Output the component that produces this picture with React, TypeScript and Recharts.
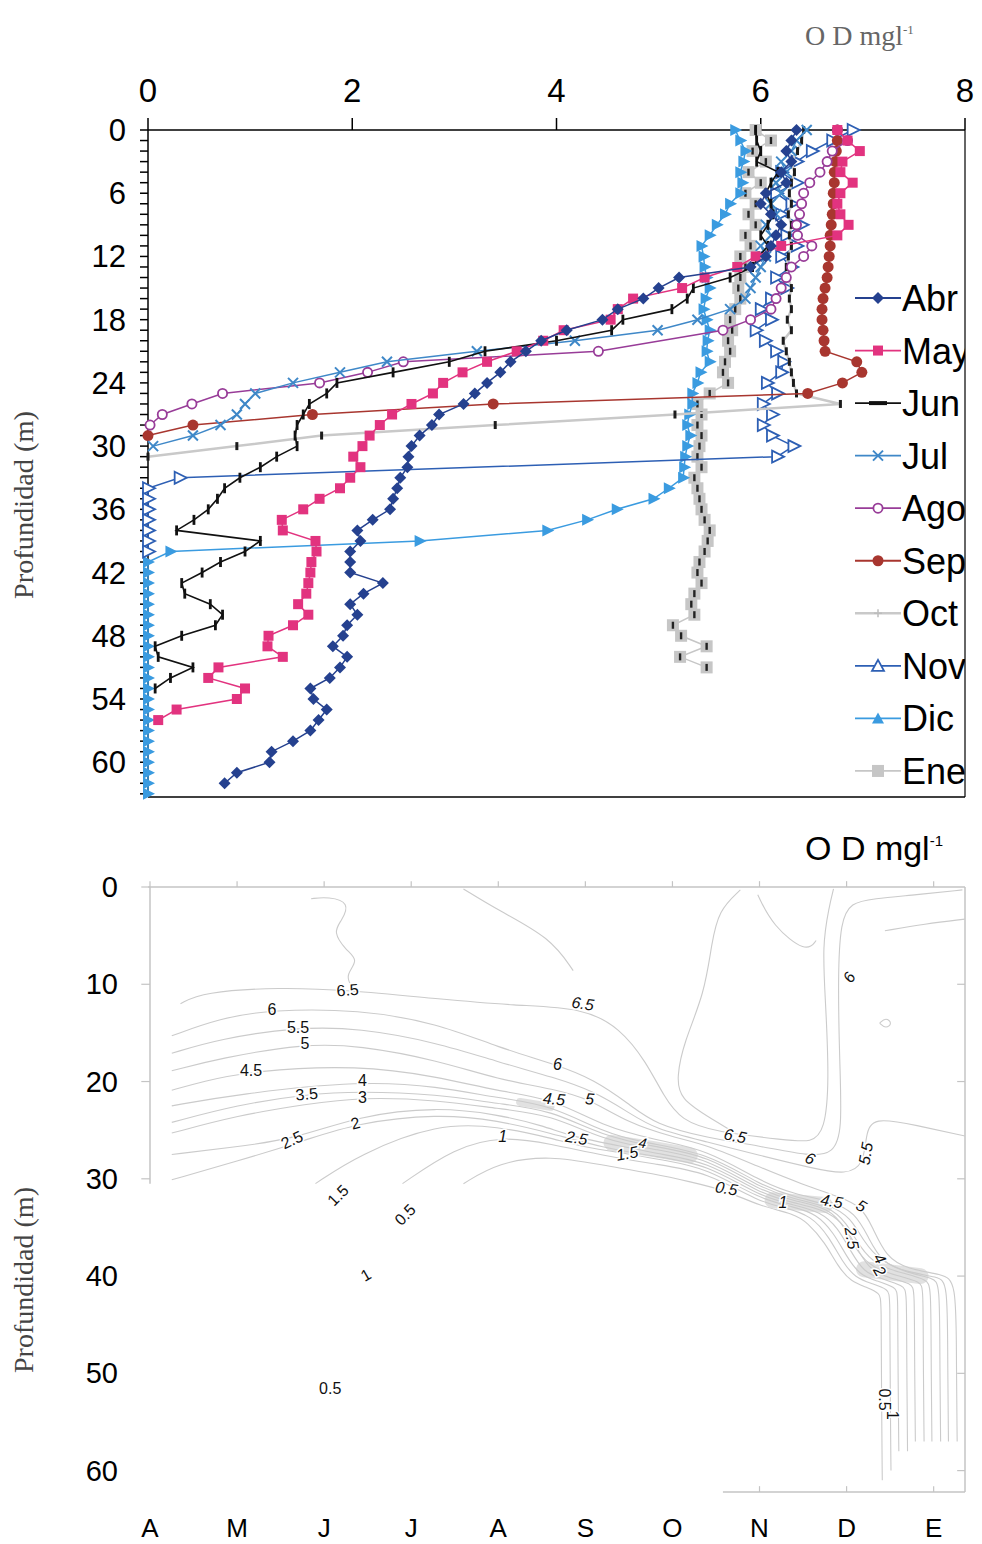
import React from "react";
import { ScatterChart, Scatter, XAxis, YAxis, ReferenceLine } from "recharts";

const SANS = 'Arial, "Liberation Sans", Helvetica, sans-serif';
const SERIF = '"Liberation Serif", "Times New Roman", serif';

// ---- dissolved oxygen profiles: [depth (m), OD (mg/l)] ----
const abr = [[0,6.35],[1,6.3],[2,6.25],[3,6.3],[4,6.2],[5,6.25],[6,6.05],[7,6.0],[8,6.1],[9,6.2],[10,6.15],[11,6.1],[12,6.05],[13,5.9],[14,5.2],[15,5.0],[16,4.85],[17,4.6],[18,4.45],[19,4.1],[20,3.85],[21,3.7],[22,3.55],[23,3.45],[24,3.32],[25,3.2],[26,3.09],[27,2.85],[28,2.78],[29,2.66],[30,2.58],[31,2.55],[32,2.54],[33,2.47],[34,2.44],[35,2.4],[36,2.37],[37,2.2],[38,2.05],[39,2.08],[40,1.98],[41,1.98],[42,1.98],[43,2.3],[44,2.11],[45,1.98],[46,2.05],[47,1.95],[48,1.91],[49,1.81],[50,1.95],[51,1.88],[52,1.78],[53,1.59],[54,1.62],[55,1.75],[56,1.67],[57,1.59],[58,1.42],[59,1.21],[60,1.19],[61,0.87],[62,0.75]];
const may = [[0,6.75],[1,6.85],[2,6.97],[3,6.8],[4,6.78],[5,6.9],[6,6.78],[7,6.75],[8,6.78],[9,6.86],[10,6.75],[11,6.2],[12,5.95],[13,5.77],[14,5.45],[15,5.23],[16,4.75],[17,4.6],[18,4.53],[19,4.07],[20,3.87],[21,3.61],[22,3.32],[23,3.08],[24,2.89],[25,2.79],[26,2.58],[27,2.39],[28,2.27],[29,2.17],[30,2.1],[31,2.01],[32,2.08],[33,1.98],[34,1.88],[35,1.68],[36,1.52],[37,1.31],[38,1.32],[39,1.64],[40,1.65],[41,1.6],[42,1.59],[43,1.57],[44,1.55],[45,1.47],[46,1.57],[47,1.42],[48,1.18],[49,1.17],[50,1.32],[51,0.69],[52,0.59],[53,0.95],[54,0.87],[55,0.28],[56,0.1]];
const jun = [[0,5.95],[1,5.96],[2,6.0],[3,5.96],[4,6.17],[5,6.1],[6,6.05],[7,6.1],[8,6.12],[9,6.07],[10,6.0],[11,6.07],[12,5.98],[13,5.92],[14,5.7],[15,5.34],[16,5.28],[17,5.13],[18,4.65],[19,4.54],[20,4.0],[21,3.3],[22,2.95],[23,2.4],[24,1.85],[25,1.75],[26,1.58],[27,1.52],[28,1.46],[29,1.44],[30,1.46],[31,1.26],[32,1.1],[33,0.9],[34,0.75],[35,0.68],[36,0.59],[37,0.45],[38,0.28],[39,1.1],[40,0.95],[41,0.71],[42,0.53],[43,0.33],[44,0.36],[45,0.61],[46,0.73],[47,0.66],[48,0.33],[49,0.07],[50,0.1],[51,0.44],[52,0.22],[53,0.07]];
const jul = [[0,6.45],[1,6.35],[2,6.3],[3,6.2],[4,6.25],[5,6.15],[6,6.2],[7,6.1],[8,6.15],[9,6.05],[10,6.1],[11,6.0],[12,6.05],[13,6.0],[14,5.95],[15,5.9],[16,5.85],[17,5.7],[18,5.38],[19,4.99],[20,4.18],[21,3.22],[22,2.34],[23,1.88],[24,1.42],[25,1.05],[26,0.95],[27,0.87],[28,0.71],[29,0.44],[30,0.05]];
const ago = [[0,6.75],[1,6.85],[2,6.7],[3,6.65],[4,6.58],[5,6.48],[6,6.42],[7,6.4],[8,6.38],[9,6.35],[10,6.36],[11,6.5],[12,6.42],[13,6.3],[14,6.25],[15,6.2],[16,6.15],[17,6.1],[18,5.9],[19,5.63],[21,4.41],[22,2.5],[23,2.15],[24,1.68],[25,0.73],[26,0.43],[27,0.14],[28,0.02]];
const sep = [[0,6.75],[1,6.75],[2,6.74],[3,6.73],[4,6.72],[5,6.72],[6,6.71],[7,6.71],[8,6.7],[9,6.69],[10,6.68],[11,6.68],[12,6.67],[13,6.66],[14,6.65],[15,6.63],[16,6.61],[17,6.6],[18,6.6],[19,6.61],[20,6.62],[21,6.63],[22,6.94],[23,6.99],[24,6.8],[25,6.46],[26,3.38],[27,1.61],[28,0.44],[29,0]];
const oct = [[0,6.42],[1,6.4],[2,6.36],[3,6.3],[4,6.33],[5,6.3],[6,6.28],[7,6.3],[8,6.27],[9,6.3],[10,6.28],[11,6.3],[12,6.27],[13,6.25],[14,6.27],[15,6.3],[16,6.28],[17,6.3],[18,6.26],[19,6.3],[20,6.22],[21,6.25],[22,6.28],[23,6.3],[24,6.32],[25,6.35],[26,6.78],[27,5.16],[28,3.4],[29,1.7],[30,0.87],[31,0]];
const nov = [[0,6.9],[1,6.7],[2,6.5],[3,6.35],[4,6.2],[5,6.35],[6,6.15],[7,6.3],[8,6.2],[9,6.4],[10,6.25],[11,6.35],[12,6.2],[13,6.3],[14,6.15],[15,6.25],[16,6.1],[17,6.0],[18,6.1],[19,5.95],[20,6.04],[21,6.15],[22,6.22],[23,6.2],[24,6.06],[25,6.16],[26,6.02],[27,6.11],[28,6.02],[29,6.11],[30,6.32],[31,6.16],[33,0.31],[34,0],[35,0],[36,0],[37,0],[38,0],[39,0],[40,0]];
const dic = [[0,5.75],[1,5.8],[2,5.85],[3,5.83],[4,5.8],[5,5.82],[6,5.8],[7,5.7],[8,5.65],[9,5.57],[10,5.5],[11,5.42],[12,5.44],[13,5.45],[14,5.47],[15,5.5],[16,5.46],[17,5.44],[18,5.47],[19,5.5],[20,5.48],[21,5.47],[22,5.5],[23,5.41],[24,5.38],[25,5.33],[26,5.33],[27,5.3],[28,5.28],[29,5.31],[30,5.28],[31,5.26],[32,5.25],[33,5.24],[34,5.1],[35,4.95],[36,4.59],[37,4.3],[38,3.91],[39,2.66],[40,0.22],[41,0],[42,0],[43,0],[44,0],[45,0],[46,0],[47,0],[48,0],[49,0],[50,0],[51,0],[52,0],[53,0],[54,0],[55,0],[56,0],[57,0],[58,0],[59,0],[60,0],[61,0],[62,0],[63,0]];
const ene = [[0,5.95],[1,6.1],[2,5.92],[3,6.05],[4,5.88],[5,6.0],[6,5.85],[7,5.95],[8,5.88],[9,5.95],[10,5.85],[11,5.9],[12,5.8],[13,5.85],[14,5.8],[15,5.78],[16,5.8],[17,5.75],[18,5.7],[19,5.72],[20,5.68],[21,5.7],[22,5.65],[23,5.63],[24,5.68],[25,5.5],[26,5.38],[27,5.42],[28,5.38],[29,5.42],[30,5.4],[31,5.38],[32,5.42],[33,5.35],[34,5.38],[35,5.4],[36,5.42],[37,5.45],[38,5.5],[39,5.48],[40,5.45],[41,5.4],[42,5.38],[43,5.42],[44,5.35],[45,5.32],[46,5.35],[47,5.14],[48,5.22],[49,5.47],[50,5.21],[51,5.47]];

const odTicks = [0, 2, 4, 6, 8];
const depthMax = 63.3;
const depthTicks = Array.from({ length: 64 }, (_, i) => i);
const depthLabelStep = 6;

// ---- section (month x depth) contour lines: [month index, depth (m)] ----
const monthLetters = ["A", "M", "J", "J", "A", "S", "O", "N", "D", "E"];
const monthTicks = [0, 1, 2, 3, 4, 5, 6, 7, 8, 9];
const sectionDepthTicks = [0, 10, 20, 30, 40, 50, 60];
const sectionMonthMax = 9.36;
const sectionDepthMax = 62.2;

const c65 = [[0.35,12],[0.6,10.8],[1.5,10.3],[2.27,10.6],[3.3,11.5],[4.2,12.2],[4.97,12.4],[5.4,14.5],[5.7,18],[5.9,21.5],[6.1,24],[6.5,25.2],[7.3,26],[7.6,26.3],[7.75,25],[7.8,20],[7.76,12],[7.72,6],[7.8,2],[7.85,0.2]];
const c65b = [[6.78,0.3],[6.53,2.4],[6.45,5.8],[6.37,10.9],[6.13,16],[6.05,19.5],[6.08,21.8],[6.46,23.9],[6.72,25.3]];
const c6 = [[0.25,15.3],[0.8,13.5],[1.4,12.6],[2.4,12.6],[3.3,14],[4.0,16.5],[4.68,18.3],[5.1,19.8],[5.5,22.3],[5.8,24.4],[6.4,25.8],[7.0,26.6],[7.58,27.7],[7.85,27.4],[7.95,25],[7.92,18],[7.9,9.3],[7.93,3.5],[8.05,1.6],[8.3,1.2],[8.8,0.8],[9.33,0.3]];
const c55 = [[0.25,17.1],[0.8,15.6],[1.7,14.4],[2.4,14.5],[3.3,16],[4.0,18.0],[4.65,19.6],[5.1,21.0],[5.5,23.2],[5.8,24.9],[6.4,26.2],[7.0,27.6],[7.6,28.9],[8.0,29.6],[8.2,28.5],[8.22,25.5],[8.3,23.6],[8.8,24.5],[9.36,25.6]];
const c5 = [[0.25,18.9],[0.8,17.6],[1.78,16.1],[2.4,16.3],[3.3,17.8],[4.0,19.8],[4.65,20.8],[5.05,21.8],[5.5,24.3],[6.0,25.7],[6.4,26.5],[7.0,28.8],[7.5,30.6],[7.9,31.8],[8.17,32.8],[8.3,35],[8.45,38],[8.7,39.3],[9.1,39.8],[9.26,40.5],[9.26,48],[9.27,57]];
const c45 = [[0.25,20.9],[0.6,20],[1.16,18.9],[2.4,18.3],[3.3,19.5],[4.0,21.0],[4.64,21.8],[5.2,24.6],[5.8,26.0],[6.4,27.0],[7.0,30.2],[7.4,31.6],[7.83,32.3],[8.1,33.5],[8.25,36],[8.4,38.6],[8.7,39.6],[9.05,40.1],[9.16,40.6],[9.16,48],[9.17,57]];
const c4 = [[0.25,22.5],[1.0,21.3],[2.44,19.9],[3.3,20.5],[4.0,21.7],[4.6,22.4],[5.2,25.2],[5.66,26.3],[6.4,27.3],[7.0,30.6],[7.4,31.9],[7.8,32.6],[8.05,34],[8.2,36.5],[8.38,38.4],[8.7,39.7],[9.0,40.2],[9.07,40.8],[9.07,48],[9.08,57]];
const c35 = [[0.25,24.2],[1.0,22.4],[1.8,21.3],[2.4,21.0],[3.3,21.3],[4.0,22.3],[4.6,22.9],[5.2,25.6],[5.8,26.7],[6.4,27.6],[7.0,30.9],[7.4,32.1],[7.8,32.8],[8.0,34.5],[8.15,37],[8.35,39],[8.7,39.8],[8.92,40.4],[8.97,41],[8.97,48],[8.98,57]];
const c3 = [[0.25,25.3],[1.0,23.5],[1.8,22.3],[2.44,21.6],[3.3,21.9],[4.0,22.8],[4.6,23.4],[5.2,26.0],[5.8,27.0],[6.4,27.9],[7.0,31.2],[7.4,32.3],[7.8,33.0],[7.98,35],[8.12,37.5],[8.3,39.2],[8.6,40],[8.85,40.6],[8.88,41.2],[8.88,48],[8.89,57]];
const c25 = [[0.25,27.5],[0.9,26.8],[1.63,26],[2.4,23.5],[3.3,22.6],[4.0,23.4],[4.5,24.5],[4.9,25.8],[5.4,26.6],[5.8,27.4],[6.4,28.2],[7.0,31.5],[7.4,32.5],[7.75,33.2],[7.95,34.5],[8.06,36.1],[8.25,39.4],[8.5,40.2],[8.75,40.8],[8.78,41.4],[8.78,48],[8.79,57]];
const c2 = [[0.25,30.1],[1.0,28.2],[1.8,26],[2.36,24.3],[3.3,23.3],[4.0,24],[4.6,25.3],[5.2,26.8],[5.8,27.7],[6.4,28.5],[7.0,31.8],[7.4,32.7],[7.7,33.4],[7.9,35],[8.05,37.5],[8.2,39.6],[8.38,40.2],[8.66,41],[8.69,41.6],[8.69,48],[8.7,58]];
const c15 = [[1.9,30.5],[2.4,27.5],[3.3,24.3],[4.0,24.6],[4.6,25.8],[5.0,26.8],[5.48,27.4],[5.9,28.1],[6.4,28.9],[7.0,32.1],[7.4,32.9],[7.65,33.6],[7.85,35.5],[8.0,38],[8.15,39.9],[8.35,40.5],[8.57,41.2],[8.59,41.8],[8.59,50],[8.6,58]];
const c1 = [[2.9,30.5],[3.5,26.8],[4.05,25.6],[4.6,26.4],[5.2,27.6],[5.8,28.5],[6.4,29.3],[7.0,32.4],[7.27,32.9],[7.6,33.8],[7.8,36],[7.95,38.5],[8.1,40.2],[8.3,40.8],[8.48,41.4],[8.5,42],[8.5,52],[8.51,60]];
const c05 = [[3.6,30.5],[4.0,28.3],[4.6,27.6],[5.2,28.6],[5.8,29.5],[6.2,30.3],[6.62,31.2],[7.0,32.8],[7.4,33.6],[7.55,34.5],[7.75,36.5],[7.9,39],[8.05,40.6],[8.25,41.2],[8.38,41.8],[8.4,42.4],[8.4,52],[8.41,61]];
const t1 = [[1.85,1.2],[2.05,1.0],[2.3,1.6],[2.2,3.5],[2.1,4.6],[2.25,6.5],[2.4,7.5],[2.25,9.0],[2.3,10.0]];
const t2 = [[3.6,0.2],[4.0,2.4],[4.6,5.2],[4.86,8.6]];
const t3 = [[6.98,0.8],[7.15,4.0],[7.54,6.8],[7.65,5.5]];
const t4 = [[8.44,4.5],[8.9,3.8],[9.36,3.3]];
const t5 = [[8.38,14],[8.45,13.4],[8.53,14],[8.45,14.6],[8.38,14]];
const contourLines = [c65, c65b, c6, c55, c5, c45, c4, c35, c3, c25, c2, c15, c1, c05, t1, t2, t3, t4, t5];

// darker bands where the isolines crowd together
const shadeA = [[5.3,26.3],[5.75,26.9],[6.2,27.6]];
const shadeB = [[7.15,32.2],[7.75,32.7]];
const shadeC = [[8.2,39.3],[8.85,40.0]];
const shadeD = [[4.25,22.1],[4.6,22.6]];

// isoline labels: [month index, depth, text, rotation, italic]
const contourLabels: [number, number, string, number, boolean][] = [
  [2.27,10.6,"6.5",-5,false],[1.4,12.6,"6",0,false],[1.7,14.4,"5.5",0,false],[1.78,16.1,"5",0,false],
  [1.16,18.9,"4.5",0,false],[2.44,19.9,"4",0,false],[1.8,21.3,"3.5",-5,false],[2.44,21.6,"3",0,false],
  [2.36,24.3,"2",-15,false],[1.63,26.0,"2.5",-25,false],[2.16,31.7,"1.5",-45,false],[2.93,33.7,"0.5",-45,false],
  [2.48,39.9,"1",-30,false],[2.07,51.6,"0.5",0,false],
  [4.97,12.0,"6.5",8,true],[4.68,18.3,"6",0,true],[4.64,21.8,"4.5",5,true],[5.05,21.8,"5",5,true],
  [4.05,25.6,"1",0,true],[4.9,25.8,"2.5",10,true],[5.48,27.4,"1.5",-10,true],[5.66,26.3,"4",10,true],
  [6.72,25.6,"6.5",12,true],[7.58,27.9,"6",25,true],[6.62,31.0,"0.5",10,true],[7.27,32.4,"1",0,true],
  [7.83,32.3,"4.5",10,true],[8.17,32.8,"5",30,true],[8.22,27.4,"5.5",-80,true],[8.06,36.1,"2.5",80,true],
  [8.38,38.2,"4",60,true],[8.38,39.5,"2",60,true],[8.44,52.7,"0.5",90,false],[8.53,54.3,"1",90,false],
  [8.03,9.3,"6",-60,true],
];

type Kind = "diamond" | "square" | "bar" | "cross" | "ring" | "dot" | "dash" | "triOpen" | "tri" | "graySq";

const series: { name: string; data: number[][]; color: string; kind: Kind; width: number }[] = [
  { name: "Abr", data: abr, color: "#25418f", kind: "diamond", width: 1.5 },
  { name: "May", data: may, color: "#e2337f", kind: "square", width: 1.5 },
  { name: "Jun", data: jun, color: "#111111", kind: "bar", width: 1.6 },
  { name: "Jul", data: jul, color: "#3f88c8", kind: "cross", width: 1.5 },
  { name: "Ago", data: ago, color: "#983c98", kind: "ring", width: 1.5 },
  { name: "Sep", data: sep, color: "#a8362f", kind: "dot", width: 1.5 },
  { name: "Oct", data: oct, color: "#c9c9c9", kind: "dash", width: 2.5 },
  { name: "Nov", data: nov, color: "#2d5fb4", kind: "triOpen", width: 1.5 },
  { name: "Dic", data: dic, color: "#3a9be0", kind: "tri", width: 1.5 },
  { name: "Ene", data: ene, color: "#c6c6c6", kind: "graySq", width: 1.5 },
];

const Marker = ({ kind, color, cx, cy, legend }: { kind: Kind; color: string; cx: number; cy: number; legend?: boolean }) => {
  switch (kind) {
    case "diamond":
      return <polygon points={`${cx},${cy - 6} ${cx + 6},${cy} ${cx},${cy + 6} ${cx - 6},${cy}`} fill={color} />;
    case "square":
      return <rect x={cx - 5} y={cy - 5} width={10} height={10} fill={color} />;
    case "bar":
      return legend ? (
        <rect x={cx - 9} y={cy - 2} width={18} height={4} fill={color} />
      ) : (
        <rect x={cx - 1.4} y={cy - 5} width={2.8} height={10} fill={color} />
      );
    case "cross":
      return <path d={`M${cx - 5},${cy - 5}L${cx + 5},${cy + 5}M${cx - 5},${cy + 5}L${cx + 5},${cy - 5}`} stroke={color} strokeWidth={2} />;
    case "ring":
      return <circle cx={cx} cy={cy} r={4.6} fill="#fff" stroke={color} strokeWidth={1.8} />;
    case "dot":
      return <circle cx={cx} cy={cy} r={5.5} fill={color} />;
    case "dash":
      return legend ? (
        <path d={`M${cx - 4},${cy}L${cx + 4},${cy}M${cx},${cy - 4}L${cx},${cy + 4}`} stroke="#bdbdbd" strokeWidth={1.5} />
      ) : (
        <rect x={cx - 1.5} y={cy - 4} width={3} height={8} fill="#1c1c1c" />
      );
    case "triOpen":
    case "tri": {
      const pts = legend
        ? `${cx},${cy - 6} ${cx + 6},${cy + 5} ${cx - 6},${cy + 5}`
        : `${cx - 5},${cy - 6} ${cx + 7},${cy} ${cx - 5},${cy + 6}`;
      return kind === "tri" ? (
        <polygon points={pts} fill={color} />
      ) : (
        <polygon points={pts} fill="#fff" stroke={color} strokeWidth={1.8} />
      );
    }
    case "graySq":
      return (
        <g>
          <rect x={cx - 6} y={cy - 6} width={12} height={12} fill={color} />
          {!legend && <rect x={cx - 1.2} y={cy - 3.5} width={2.4} height={7} fill="#222" />}
        </g>
      );
    default:
      return <g />;
  }
};

const toProfile = (rows: number[][]) => rows.map(([depth, od]) => ({ depth, od }));
const toSection = (rows: number[][]) => rows.map(([m, d]) => ({ m, d }));

const OdTick = (p: any) => (
  <text x={p.x} y={p.y} dy={-10} textAnchor="middle" fontSize={33} fontFamily={SANS} fill="#000">
    {p.payload.value}
  </text>
);

const DepthTick = (p: any) =>
  p.payload.value % depthLabelStep === 0 ? (
    <text x={p.x} y={p.y} dy={11} textAnchor="end" fontSize={31} fontFamily={SANS} fill="#000">
      {p.payload.value}
    </text>
  ) : (
    <g />
  );

const MonthTick = (p: any) => (
  <text x={p.x} y={p.y} dy={45} textAnchor="middle" fontSize={26} fontFamily={SANS} fill="#000">
    {monthLetters[p.payload.value]}
  </text>
);

const SectionDepthTick = (p: any) => (
  <text x={p.x} y={p.y} dy={10} textAnchor="end" fontSize={29} fontFamily={SANS} fill="#000">
    {p.payload.value}
  </text>
);

const ContourLabel = (p: any) => {
  const { cx, cy, payload } = p;
  return (
    <text
      x={cx}
      y={cy}
      transform={`rotate(${payload.r} ${cx} ${cy})`}
      textAnchor="middle"
      dominantBaseline="central"
      fontSize={payload.t === "4" && payload.m > 5.5 && payload.m < 6 ? 14 : 16}
      fontStyle={payload.it ? "italic" : "normal"}
      fontFamily={SANS}
      fill="#111"
      stroke="#fff"
      strokeWidth={3}
      paintOrder="stroke"
    >
      {payload.t}
    </text>
  );
};

const frame = "#c4c4c4";
const noShape = () => <g />;

export default function App() {
  const labelData = contourLabels.map(([m, d, t, r, it]) => ({ m, d, t, r, it }));
  return (
    <div style={{ position: "absolute", left: 0, top: 0, width: 982, height: 1544, background: "#fff", overflow: "hidden" }}>
      {/* vertical profiles */}
      <div style={{ position: "absolute", left: 0, top: 0 }}>
        <ScatterChart width={982} height={810} margin={{ top: 90, right: 17, bottom: 13, left: 88 }}>
          <XAxis
            type="number"
            dataKey="od"
            orientation="top"
            domain={[0, 8]}
            ticks={odTicks}
            height={40}
            tickSize={12}
            tickMargin={6}
            axisLine={{ stroke: "#000", strokeWidth: 1.5 }}
            tickLine={{ stroke: "#000", strokeWidth: 1.5 }}
            tick={OdTick}
          />
          <YAxis
            type="number"
            dataKey="depth"
            reversed
            domain={[0, depthMax]}
            ticks={depthTicks}
            interval={0}
            width={60}
            tickSize={8}
            tickMargin={14}
            axisLine={{ stroke: "#000", strokeWidth: 1.5 }}
            tickLine={{ stroke: "#000", strokeWidth: 1.5 }}
            tick={DepthTick}
          />
          <ReferenceLine segment={[{ x: 8, y: 0 }, { x: 8, y: depthMax }]} stroke="#333" strokeWidth={1.5} />
          <ReferenceLine segment={[{ x: 0, y: depthMax }, { x: 8, y: depthMax }]} stroke="#000" strokeWidth={1.5} />
          {[...series].reverse().map((s) => (
            <Scatter
              key={s.name}
              name={s.name}
              data={toProfile(s.data)}
              line={{ stroke: s.color, strokeWidth: s.width }}
              lineJointType="linear"
              shape={(p: any) => <Marker kind={s.kind} color={s.color} cx={p.cx} cy={p.cy} />}
              isAnimationActive={false}
            />
          ))}
        </ScatterChart>
      </div>

      {/* month x depth section */}
      <div style={{ position: "absolute", left: 0, top: 840 }}>
        <ScatterChart width={982} height={704} margin={{ top: 47, right: 17, bottom: 8, left: 90 }}>
          <XAxis
            type="number"
            dataKey="m"
            domain={[0, sectionMonthMax]}
            ticks={monthTicks}
            interval={0}
            height={44}
            tickSize={0}
            tickMargin={0}
            axisLine={false}
            tickLine={false}
            tick={MonthTick}
          />
          <YAxis
            type="number"
            dataKey="d"
            reversed
            domain={[0, sectionDepthMax]}
            ticks={sectionDepthTicks}
            interval={0}
            width={60}
            tickSize={0}
            tickMargin={32}
            axisLine={false}
            tickLine={false}
            tick={SectionDepthTick}
          />
          <ReferenceLine segment={[{ x: -0.02, y: 0 }, { x: sectionMonthMax, y: 0 }]} stroke={frame} strokeWidth={1.5} ifOverflow="visible" />
          <ReferenceLine segment={[{ x: 0, y: 0 }, { x: 0, y: 30.5 }]} stroke={frame} strokeWidth={1.5} />
          <ReferenceLine segment={[{ x: sectionMonthMax, y: 0 }, { x: sectionMonthMax, y: sectionDepthMax }]} stroke={frame} strokeWidth={1.5} />
          <ReferenceLine segment={[{ x: 6.58, y: sectionDepthMax }, { x: sectionMonthMax, y: sectionDepthMax }]} stroke={frame} strokeWidth={1.5} />
          {monthTicks.map((m) => (
            <ReferenceLine key={`tt${m}`} segment={[{ x: m, y: 0 }, { x: m, y: -0.6 }]} stroke={frame} strokeWidth={1.2} ifOverflow="visible" />
          ))}
          {[0, 10, 20, 30].map((d) => (
            <ReferenceLine key={`lt${d}`} segment={[{ x: -0.1, y: d }, { x: 0, y: d }]} stroke={frame} strokeWidth={1.2} ifOverflow="visible" />
          ))}
          {[10, 20, 30, 40, 50, 60].map((d) => (
            <ReferenceLine key={`rt${d}`} segment={[{ x: sectionMonthMax - 0.09, y: d }, { x: sectionMonthMax, y: d }]} stroke={frame} strokeWidth={1.2} />
          ))}
          {[7, 8, 9].map((m) => (
            <ReferenceLine key={`bt${m}`} segment={[{ x: m, y: sectionDepthMax }, { x: m, y: sectionDepthMax - 0.6 }]} stroke={frame} strokeWidth={1.2} />
          ))}
          {[shadeA, shadeB, shadeC, shadeD].map((sh, i) => (
            <Scatter
              key={`sh${i}`}
              data={toSection(sh)}
              line={{ stroke: "#c8c8c8", strokeWidth: i === 3 ? 8 : 16, strokeOpacity: 0.55, strokeLinecap: "round" }}
              shape={noShape}
              isAnimationActive={false}
            />
          ))}
          {contourLines.map((c, i) => (
            <Scatter
              key={`c${i}`}
              data={toSection(c)}
              line={{ stroke: "#cbcbcb", strokeWidth: 1.1 }}
              lineJointType="basis"
              shape={noShape}
              isAnimationActive={false}
            />
          ))}
          <Scatter data={labelData} shape={ContourLabel} isAnimationActive={false} />
        </ScatterChart>
      </div>

      {/* titles and legend */}
      <svg width={982} height={1544} style={{ position: "absolute", left: 0, top: 0, pointerEvents: "none" }}>
        <text x={805} y={45} fontSize={28} fontFamily={SERIF} fill="#666">
          O D mgl<tspan dy={-11} fontSize={13}>-1</tspan>
        </text>
        <text transform="translate(33 505) rotate(-90)" textAnchor="middle" fontSize={28} fontFamily={SERIF} fill="#444" textLength={188} lengthAdjust="spacingAndGlyphs">
          Profundidad (m)
        </text>
        <text x={805} y={860} fontSize={34} fontFamily={SANS} fill="#000">
          O D mgl<tspan dy={-14} fontSize={15}>-1</tspan>
        </text>
        <text transform="translate(33 1280) rotate(-90)" textAnchor="middle" fontSize={28} fontFamily={SERIF} fill="#444" textLength={186} lengthAdjust="spacingAndGlyphs">
          Profundidad (m)
        </text>
        <defs>
          <clipPath id="legendClip">
            <rect x={850} y={270} width={115} height={530} />
          </clipPath>
        </defs>
        <g clipPath="url(#legendClip)">
          {series.map((s, i) => {
            const cy = 298 + i * 52.55;
            return (
              <g key={s.name}>
                <line x1={855} x2={901} y1={cy} y2={cy} stroke={s.color} strokeWidth={s.kind === "dash" ? 2.5 : 1.8} />
                <Marker kind={s.kind} color={s.color} cx={878} cy={cy} legend />
                <text x={902} y={cy + 13} fontSize={36} fontFamily={SANS} fill="#000">
                  {s.name}
                </text>
              </g>
            );
          })}
        </g>
      </svg>
    </div>
  );
}
